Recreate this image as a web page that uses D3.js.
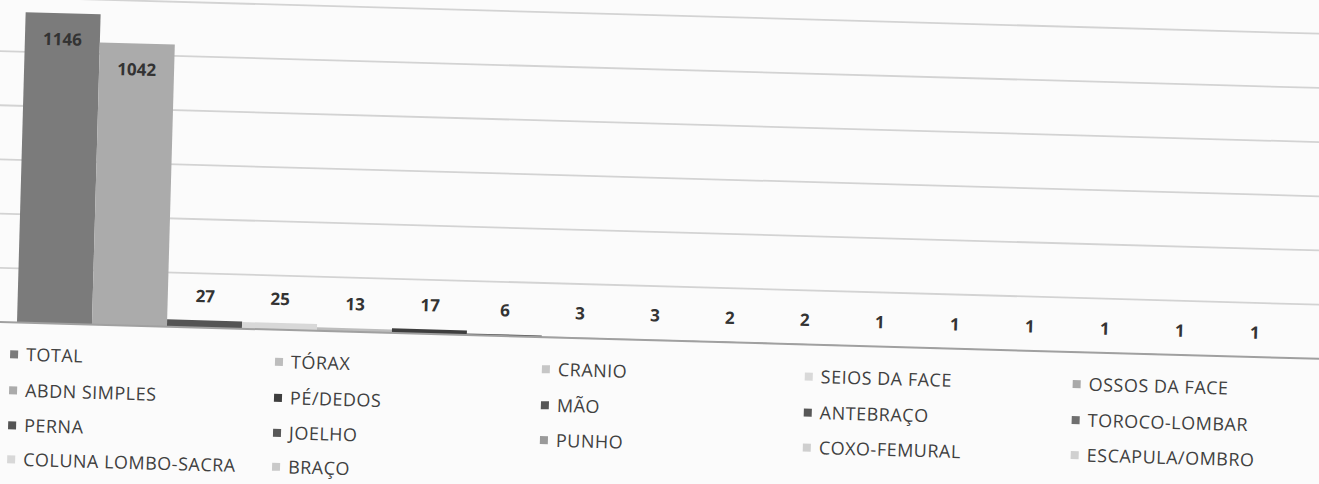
<!DOCTYPE html>
<html>
<head>
<meta charset="utf-8">
<script src="https://cdn.jsdelivr.net/npm/d3@7"></script>
<style>
  html, body { margin: 0; padding: 0; background: #fbfbfb; overflow: hidden; }
  svg { display: block; }
</style>
</head>
<body>
<svg id="chart" width="1319" height="484"></svg>
<script>
// ---- data ----
const categories = ["TOTAL", "ABDN SIMPLES", "PERNA", "COLUNA LOMBO-SACRA", "TÓRAX", "PÉ/DEDOS",
  "JOELHO", "BRAÇO", "CRANIO", "MÃO", "PUNHO", "SEIOS DA FACE", "ANTEBRAÇO", "COXO-FEMURAL",
  "OSSOS DA FACE", "TOROCO-LOMBAR", "ESCAPULA/OMBRO"];
const values = [1146, 1042, 27, 25, 13, 17, 6, 3, 3, 2, 2, 1, 1, 1, 1, 1, 1];
const yTicks = [200, 400, 600, 800, 1000, 1200];
const palette = ["#7b7b7b", "#ababab", "#545454", "#d8d8d8", "#bdbdbd", "#3e3e3e", "#585858",
  "#c9c9c9", "#c6c6c6", "#565656", "#9a9a9a", "#d9d9d9", "#575757", "#cfcfcf", "#a9a9a9",
  "#6f6f6f", "#d0d0d0"];
const legendColumns = [4, 4, 3, 3, 3];

// ---- layout ----
const W = 1319, H = 484;
const baseY = 322;
const tilt = 1.6; // photographed page is slightly rotated

const svg = d3.select("#chart");
svg.append("rect").attr("width", W).attr("height", H).attr("fill", "#fbfbfb");

const g = svg.append("g").attr("transform", `rotate(${tilt}, 0, ${baseY})`);

const x = d3.scaleBand().domain(categories).range([17, 1292]).paddingInner(0).paddingOuter(0);
const y = d3.scaleLinear().domain([0, 1200]).range([baseY, -3]);
const color = d3.scaleOrdinal().domain(categories).range(palette);

// gridlines
g.append("g").selectAll("line").data(yTicks).join("line")
  .attr("x1", -60).attr("x2", W + 60)
  .attr("y1", d => y(d)).attr("y2", d => y(d))
  .attr("stroke", "#d3d3d3").attr("stroke-width", 1.8);

// bars
g.append("g").selectAll("rect").data(values).join("rect")
  .attr("x", (d, i) => x(categories[i]))
  .attr("width", x.bandwidth())
  .attr("y", d => y(d))
  .attr("height", d => baseY - y(d))
  .attr("fill", (d, i) => color(categories[i]));

// baseline axis
g.append("line")
  .attr("x1", -60).attr("x2", W + 60)
  .attr("y1", baseY).attr("y2", baseY)
  .attr("stroke", "#a0a0a0").attr("stroke-width", 2);

// value labels
g.append("g").selectAll("text").data(values).join("text")
  .attr("x", (d, i) => x(categories[i]) + x.bandwidth() / 2)
  .attr("y", d => (baseY - y(d) > 60 ? y(d) + 26 : y(d) - 24))
  .attr("dy", "0.35em")
  .attr("text-anchor", "middle")
  .attr("font-family", "'Open Sans', sans-serif")
  .attr("font-weight", "bold")
  .attr("font-size", 17)
  .attr("fill", "#333")
  .text(d => d);

// legend (column-major)
const colX = [15, 280, 547, 810, 1078];
const rowY = [354, 390, 425, 459];
let idx = 0;
const legend = g.append("g");
legendColumns.forEach((n, c) => {
  for (let r = 0; r < n; r++) {
    const name = categories[idx++];
    const item = legend.append("g").attr("transform", `translate(${colX[c]},${rowY[r]})`);
    item.append("rect").attr("x", -4).attr("y", -4).attr("width", 8).attr("height", 8)
      .attr("fill", color(name));
    item.append("text").attr("x", 12).attr("dy", "0.35em")
      .attr("font-family", "'Open Sans', sans-serif")
      .attr("font-size", 18)
      .attr("letter-spacing", 0.5)
      .attr("fill", "#404040")
      .text(name);
  }
});
</script>
</body>
</html>
